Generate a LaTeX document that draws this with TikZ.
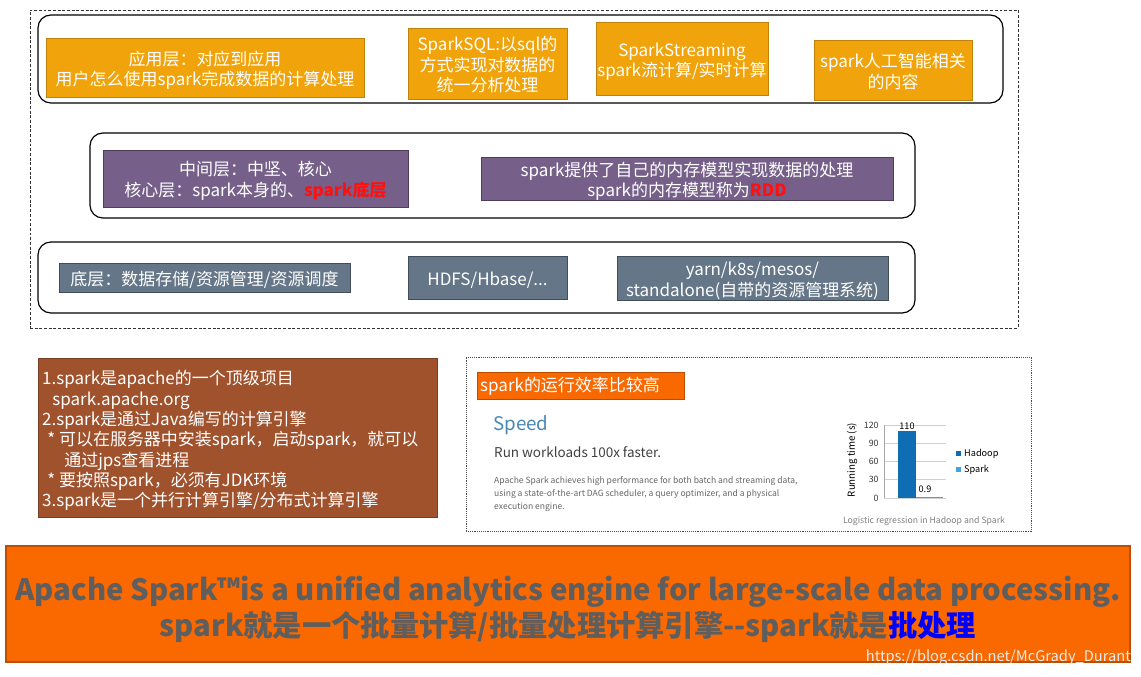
\documentclass[tikz,border=0pt]{standalone}
\usepackage{fontspec}
\setmainfont{Noto Sans CJK SC}
\usetikzlibrary{fit, positioning}
\definecolor{cApp}{HTML}{F0A30A}
\definecolor{cCore}{HTML}{76608A}
\definecolor{cBase}{HTML}{647687}
\definecolor{cNote}{HTML}{A0522D}
\definecolor{cBanner}{HTML}{FA6800}
\definecolor{cBannerText}{HTML}{5E5E5E}
\definecolor{cSpeed}{HTML}{4A86B4}
\definecolor{cHadoop}{HTML}{0F6DB3}
\definecolor{cSpark}{HTML}{3FA3E3}
\definecolor{cHot}{HTML}{FF1010}
\newcommand{\pxu}{0.03cm}
% centred block of lines, kept on TeX struts (glyphs nudged onto the middle)
\newcommand{\boxlines}[1]{\raisebox{-0.22em}[\height][\depth]{\begin{tabular}{@{}c@{}}#1\end{tabular}}}
\newcommand{\leftlines}[1]{\raisebox{-0.22em}[\height][\depth]{\begin{tabular}{@{}l@{}}#1\end{tabular}}}
\tikzset{
  font=\fontsize{14.5}{17.3}\selectfont,
  block/.style={inner sep=0pt, text=white, line width=0.8pt},
  appblock/.style={block, fill=cApp, draw=cApp!80!black},
  coreblock/.style={block, fill=cCore, draw=cCore!65!black},
  baseblock/.style={block, fill=cBase, draw=cBase!65!black},
  size/.style 2 args={minimum width=#1*\pxu, minimum height=#2*\pxu},
  layerbox/.style={draw=black, line width=1pt, rounded corners=11pt, inner sep=0pt},
  framebox/.style={draw=black!80, dash pattern=on 2.5pt off 1.5pt, line width=0.8pt, inner sep=0pt},
  dotbox/.style={draw=black!70, dash pattern=on 0.8pt off 0.8pt, line width=0.8pt, inner sep=0pt, fill=white},
  notebox/.style={inner sep=0pt, fill=cNote, draw=cNote!75!black, line width=0.8pt},
  tag/.style={inner sep=0pt, fill=cBanner, draw=cBanner!75!black, line width=0.6pt},
  tick/.style={font=\fontsize{7.5}{9}\selectfont, text=black!80, anchor=east, inner sep=1pt},
  chartlabel/.style={font=\fontsize{7.8}{9}\selectfont, inner sep=0pt},
  gridline/.style={draw=black!18, line width=0.5pt},
}

\begin{document}
\begin{tikzpicture}[x=\pxu, y=-\pxu]
  \useasboundingbox (0,0) rectangle (1141,677);

  % ----------------------------------------------------------------
  % Layered architecture (dashed frame)
  % ----------------------------------------------------------------
  \node[framebox, fit={(30,10)(1018,328)}] (frame) {};

  % --- application layer ---
  \node[layerbox, fit={(38,15)(1003,103)}] (applayer) {};
  \node[appblock, size={318}{59}] (app) at (205,67.5)
    {\boxlines{应用层：对应到应用\\用户怎么使用spark完成数据的计算处理}};
  \node[appblock, size={159}{71}] (sql) at (487.5,63.5)
    {\boxlines{SparkSQL:以sql的\\方式实现对数据的\\统一分析处理}};
  \node[appblock, size={172}{73}] (stream) at (682,58.5)
    {\boxlines{SparkStreaming\\spark流计算/实时计算}};
  \node[appblock, size={158}{60}] (ai) at (893,70)
    {\boxlines{spark人工智能相关\\的内容}};

  % --- core layer ---
  \node[layerbox, fit={(90,133)(915,218)}] (corelayer) {};
  \node[coreblock, size={305}{57}] (core) at (255.5,178.5)
    {\boxlines{中间层：中坚、核心\\核心层：spark本身的、{\color{cHot}\bfseries spark底层}}};
  \node[coreblock, size={412}{43}] (rdd) at (687,178.5)
    {\boxlines{spark提供了自己的内存模型实现数据的处理\\spark的内存模型称为{\color{cHot}\bfseries RDD}}};

  % --- base layer ---
  \node[layerbox, fit={(38,242)(915,313)}] (baselayer) {};
  \node[baseblock, size={291}{29}] (base) at (204.5,277.5) {\boxlines{底层：数据存储/资源管理/资源调度}};
  \node[baseblock, size={159}{43}] (hdfs) at (487.5,277.5) {\boxlines{HDFS/Hbase/...}};
  \node[baseblock, size={271}{44}] (yarn) at (752.5,278)
    {\boxlines{yarn/k8s/mesos/\\standalone(自带的资源管理系统)}};

  % ----------------------------------------------------------------
  % Notes (brown box)
  % ----------------------------------------------------------------
  \node[notebox, fit={(38,358)(437,517)}] (notes) {};
  \node[anchor=west, text=white, inner sep=0pt, font=\fontsize{14.5}{17.2}\selectfont] (notetext) at (42,438)
    {\leftlines{1.spark是apache的一个顶级项目\\
     \hspace*{0.6em}spark.apache.org\\
     2.spark是通过Java编写的计算引擎\\
     \hspace*{0.3em}* 可以在服务器中安装spark，启动spark，就可以\\
     \hspace*{1.3em}通过jps查看进程\\
     \hspace*{0.3em}* 要按照spark，必须有JDK环境\\
     3.spark是一个并行计算引擎/分布式计算引擎}};

  % ----------------------------------------------------------------
  % Speed panel (dotted box)
  % ----------------------------------------------------------------
  \node[dotbox, fit={(466,357)(1031,531)}] (speedbox) {};
  \node[tag, fit={(477,372)(684,399)}] (speedtag) {};
  \node[anchor=west, text=white, inner sep=0pt] (tagtext) at (480,386.5) {spark的运行效率比较高};
  \node[anchor=west, text=cSpeed, font=\fontsize{16}{19}\selectfont, inner sep=0pt] (speed) at (493,425) {Speed};
  \node[anchor=west, text=black!75, font=\fontsize{11.5}{13}\selectfont, inner sep=0pt] (faster) at (494,452) {Run workloads 100x faster.};
  \node[anchor=west, text=black!60, font=\fontsize{7.3}{11}\selectfont, inner sep=0pt] (about) at (494,492)
    {\leftlines{Apache Spark achieves high performance for both batch and streaming data,\\
     using a state-of-the-art DAG scheduler, a query optimizer, and a physical\\
     execution engine.}};

  % --- bar chart: value v at y = 498 - v*73/120 ---
  \foreach \v in {0,30,60,90,120} {
    \draw[gridline] (884,{498-\v*73/120}) -- (946,{498-\v*73/120});
    \node[tick] at (880,{498-\v*73/120}) {\v};
  }
  \draw[black!35, line width=0.6pt] (884,425) -- (884,498);
  \fill[cHadoop] (898,498) rectangle (916,{498-110*73/120});
  \fill[cSpark] (916,498) rectangle (943,{498-0.9*73/120-0.5});
  \node[chartlabel] (hval) at (907,426) {110};
  \node[chartlabel] (sval) at (925,489) {0.9};
  \node[chartlabel, rotate=90, font=\fontsize{8.3}{9}\selectfont] (ylab) at (852,460) {Running time (s)};
  \fill[cHadoop] (956,451) rectangle (961,456);
  \fill[cSpark] (956,467) rectangle (961,472);
  \node[chartlabel, anchor=west] (lhadoop) at (964,453.5) {Hadoop};
  \node[chartlabel, anchor=west] (lspark) at (964,469.5) {Spark};
  \node[text=black!50, font=\fontsize{7.4}{8}\selectfont, inner sep=0pt] (caption) at (924,521)
    {Logistic regression in Hadoop and Spark};

  % ----------------------------------------------------------------
  % Banner
  % ----------------------------------------------------------------
  \node[tag, line width=1pt, fit={(6,546)(1130,662)}] (banner) {};
  \node[text=cBannerText, font=\bfseries\fontsize{25}{30.5}\selectfont, inner sep=0pt] (slogan) at (568,605)
    {\boxlines{Apache Spark\texttrademark is a unified analytics engine for large-scale data processing.\\
     spark就是一个批量计算/批量处理计算引擎-{}-spark就是{\color{blue}批处理}}};
  \node[anchor=east, text=white!92!black, font=\fontsize{12.5}{14}\selectfont, inner sep=0pt] (mark) at (1131,657)
    {https://blog.csdn.net/McGrady\_Durant};
\end{tikzpicture}
\end{document}
